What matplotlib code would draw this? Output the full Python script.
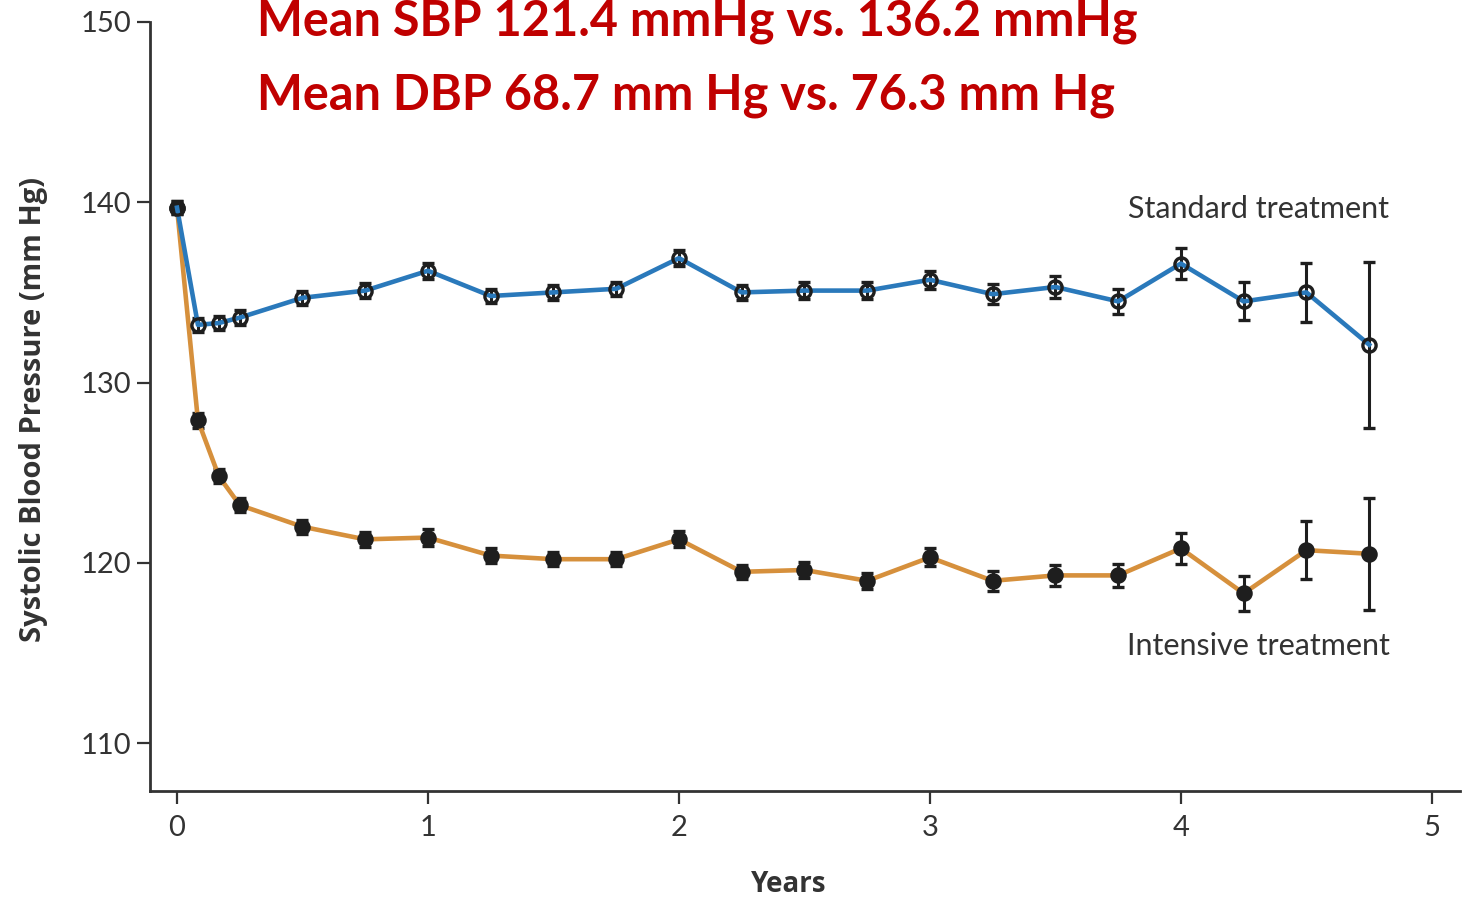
import matplotlib
matplotlib.use("Agg")
import matplotlib.pyplot as plt

# Follow-up times in years (baseline, 1, 2, 3 months, then quarterly)
years = [0, 1/12, 2/12, 0.25, 0.5, 0.75, 1.0, 1.25, 1.5, 1.75, 2.0, 2.25,
         2.5, 2.75, 3.0, 3.25, 3.5, 3.75, 4.0, 4.25, 4.5, 4.75]

# Mean systolic blood pressure (mm Hg)
standard_sbp = [139.7, 133.2, 133.3, 133.6, 134.7, 135.1, 136.2, 134.8, 135.0,
                135.2, 136.9, 135.0, 135.1, 135.1, 135.7, 134.9, 135.3, 134.5,
                136.6, 134.5, 135.0, 132.1]
intensive_sbp = [139.7, 127.9, 124.8, 123.2, 122.0, 121.3, 121.4, 120.4, 120.2,
                 120.2, 121.3, 119.5, 119.6, 119.0, 120.3, 119.0, 119.3, 119.3,
                 120.8, 118.3, 120.7, 120.5]

# 95% confidence interval half-widths
standard_ci = [0.35, 0.4, 0.4, 0.4, 0.4, 0.4, 0.45, 0.4, 0.4, 0.4, 0.45, 0.4,
               0.45, 0.45, 0.5, 0.55, 0.6, 0.7, 0.85, 1.05, 1.65, 4.6]
intensive_ci = [0.35, 0.4, 0.4, 0.4, 0.4, 0.4, 0.45, 0.4, 0.4, 0.4, 0.45, 0.4,
                0.45, 0.45, 0.5, 0.55, 0.6, 0.65, 0.85, 0.95, 1.6, 3.1]

x_ticks = [0, 1, 2, 3, 4, 5]
y_ticks = [110, 120, 130, 140, 150]

title_lines = ["Mean SBP 121.4 mmHg vs. 136.2 mmHg",
               "Mean DBP 68.7 mm Hg vs. 76.3 mm Hg"]

BLUE = "#2a79bb"
ORANGE = "#d6903c"
INK = "#1e1e1e"
TEXT = "#333333"
RED = "#c00000"

fig = plt.figure(figsize=(14.76, 9.0), dpi=100)
ax = fig.add_axes([150 / 1476, 1 - 791 / 900, 1310 / 1476, 769 / 900])

common = dict(ecolor=INK, elinewidth=2.2, capsize=4.5, capthick=2.4,
              markersize=9.5, markeredgewidth=2.4, markeredgecolor=INK)

ax.errorbar(years, intensive_sbp, yerr=intensive_ci, color=ORANGE, lw=3.3,
            marker="o", markerfacecolor=INK, zorder=3, **common)
ax.errorbar(years, standard_sbp, yerr=standard_ci, color=BLUE, lw=3.3,
            marker="o", markerfacecolor="none", zorder=4, **common)

ax.set_xlim(-0.1076, 5.112)
ax.set_ylim(107.34, 150)

for side in ("top", "right"):
    ax.spines[side].set_visible(False)
for side in ("left", "bottom"):
    ax.spines[side].set_color("#333333")
    ax.spines[side].set_linewidth(2.0)

ax.set_xticks(x_ticks)
ax.set_yticks(y_ticks)
tick_font = dict(family="Lato", size=21)
ax.set_xticklabels([str(v) for v in x_ticks], **tick_font, color=TEXT)
ax.set_yticklabels([str(v) for v in y_ticks], **tick_font, color=TEXT)
ax.tick_params(axis="both", direction="out", length=9.5, width=1.6,
               color="#333333")
ax.tick_params(axis="x", pad=8)
ax.tick_params(axis="y", pad=4)

ax.set_xlabel("Years", family="Open Sans", weight="bold", size=20,
              color=TEXT, va="center")
ax.xaxis.set_label_coords((789 - 150) / 1310, -(884 - 791) / 769)
ax.set_ylabel("Systolic Blood Pressure (mm Hg)", family="Open Sans",
              weight="bold", size=21, color=TEXT, va="center")
ax.yaxis.set_label_coords(-(150 - 33) / 1310, (791 - 410) / 769)

ax.text(4.31, 139.1, "Standard treatment", family="Lato", size=22,
        color=TEXT, ha="center", va="baseline")
ax.text(4.31, 114.9, "Intensive treatment", family="Lato", size=22,
        color=TEXT, ha="center", va="baseline")

fig.text(257 / 1476, 1 - 36 / 900, title_lines[0], family="Lato",
         weight="bold", size=35, color=RED, ha="left", va="baseline")
fig.text(257 / 1476, 1 - 110 / 900, title_lines[1], family="Lato",
         weight="bold", size=35, color=RED, ha="left", va="baseline")

fig.savefig("out.png", dpi=100, facecolor="white")
